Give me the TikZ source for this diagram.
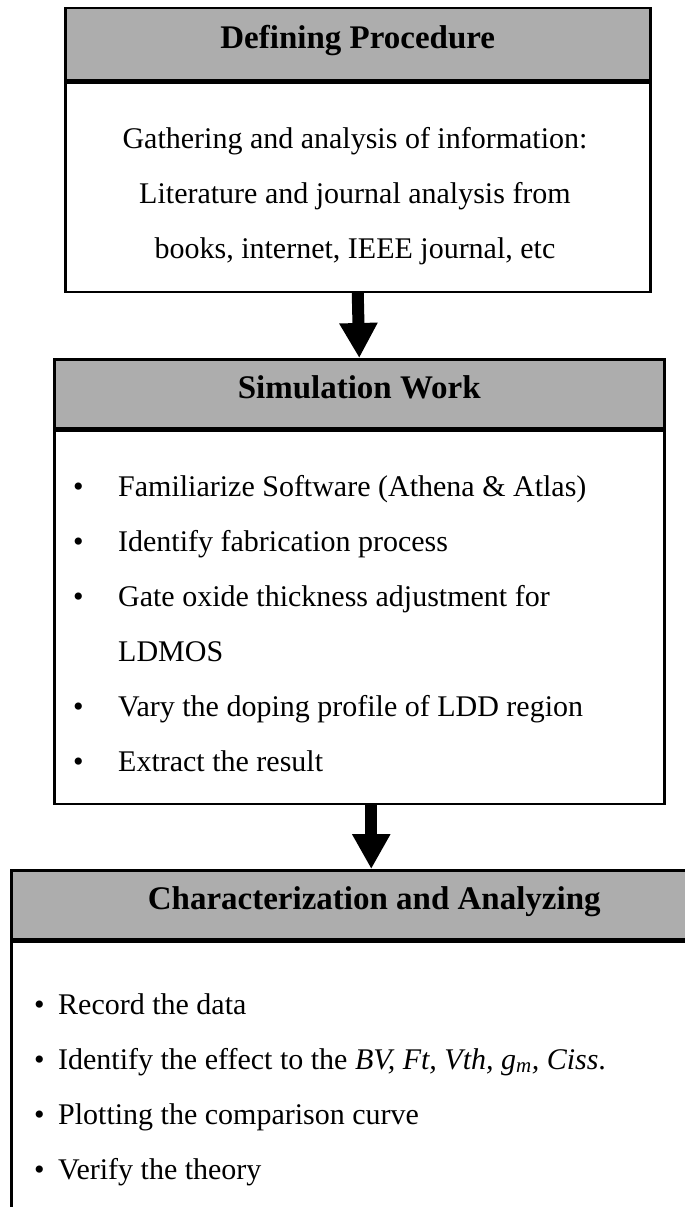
\documentclass[tikz,border=0pt]{standalone}
\usepackage{fontspec}
\setmainfont{Liberation Serif}
\usetikzlibrary{positioning, arrows.meta}

\newcommand{\bul}{\makebox[45pt][l]{\textbullet}}
\newcommand{\bulskip}{\hspace*{45pt}}
\newcommand{\smallbul}{\makebox[24pt][l]{\textbullet}}

\begin{document}
\begin{tikzpicture}[
    x=1pt, y=-1pt,
    head/.style={draw, line width=2.5pt, fill=black!32, inner sep=0pt, text depth=14pt, font=\fontsize{33}{40}\selectfont\bfseries},
    panel/.style={draw, line width=2.5pt, inner sep=0pt},
    txt/.style={inner sep=0pt, font=\fontsize{30}{55}\selectfont},
    arrow/.style={-{Triangle[length=35pt, width=36pt]}, line width=12pt}
]
\useasboundingbox (0,0) rectangle (685,1207);
\clip (0,0) rectangle (685,1207);

% Defining procedure
\node[head, minimum width=585pt, minimum height=72pt, anchor=north west] (defhead) at (64,7) {Defining Procedure};
\node[panel, below=0pt of defhead, minimum width=585pt, minimum height=209pt] (defbody) {};
\node[txt, align=center] (deftext) at (355,196) {Gathering and analysis of information:\\Literature and journal analysis from\\books, internet, IEEE journal, etc};

% Simulation work
\node[head, minimum width=610pt, minimum height=69pt, anchor=north west] (simhead) at (53,358) {Simulation Work};
\node[panel, below=0pt of simhead, minimum width=610pt, minimum height=373pt] (simbody) {};
\node[txt, align=left, anchor=north west] (simlist) at (73,475) {\bul Familiarize Software (Athena \& Atlas)\\
    \bul Identify fabrication process\\
    \bul Gate oxide thickness adjustment for\\
    \bulskip LDMOS\\
    \bul Vary the doping profile of LDD region\\
    \bul Extract the result};
\draw[arrow] (defbody.south) -- (simhead.north);

% Characterization
\node[head, minimum width=726pt, minimum height=69pt, anchor=north west] (charhead) at (10,869) {Characterization and Analyzing};
\node[panel, below=0pt of charhead, minimum width=726pt, minimum height=400pt] (charbody) {};
\node[txt, align=left, anchor=north west] (charlist) at (34,993) {\smallbul Record the data\\
    \smallbul Identify the effect to the \textit{BV, Ft, Vth, g\textsubscript{m}, Ciss}.\\
    \smallbul Plotting the comparison curve\\
    \smallbul Verify the theory};
\draw[arrow] ([xshift=12pt]simbody.south) -- ([xshift=12pt]simbody.south |- charhead.north);

\end{tikzpicture}
\end{document}
